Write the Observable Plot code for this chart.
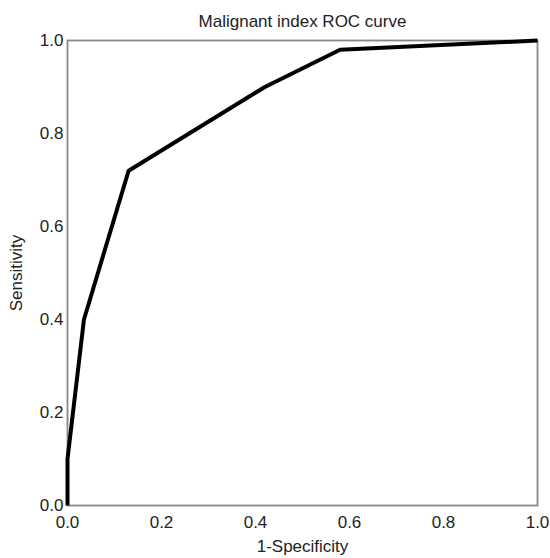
<!DOCTYPE html>
<html>
<head>
<meta charset="utf-8">
<script src="https://cdn.jsdelivr.net/npm/d3@7"></script>
<script src="https://cdn.jsdelivr.net/npm/@observablehq/plot@0.6"></script>
<style>
  html, body { margin: 0; padding: 0; background: #fff; }
  #chart svg { display: block; }
</style>
</head>
<body>
<div id="chart"></div>
<script>
const title = "Malignant index ROC curve";
const xLabel = "1-Specificity";
const yLabel = "Sensitivity";
const fpr = [0, 0, 0.035, 0.13, 0.42, 0.58, 1.0];
const tpr = [0, 0.1, 0.40, 0.72, 0.90, 0.98, 1.0];
const ticks = [0, 0.2, 0.4, 0.6, 0.8, 1.0];

const data = fpr.map((x, i) => ({x, y: tpr[i]}));

const chart = Plot.plot({
  width: 550,
  height: 558,
  marginLeft: 67,
  marginRight: 13,
  marginTop: 40,
  marginBottom: 53,
  style: {fontFamily: "'Liberation Sans', Arial, Helvetica, sans-serif", fontSize: "17px", color: "#222", background: "#fff"},
  x: {domain: [0, 1]},
  y: {domain: [0, 1]},
  marks: [
    Plot.frame({stroke: "#888", strokeWidth: 1.8}),
    Plot.axisX({ticks, tickSize: 0, tickPadding: 10, tickFormat: d3.format(".1f"), fontSize: 17,
      label: xLabel, labelAnchor: "center", labelOffset: 46, labelArrow: "none"}),
    Plot.axisY({ticks, tickSize: 0, tickPadding: 4, tickFormat: d3.format(".1f"), fontSize: 17,
      label: yLabel, labelAnchor: "center", labelOffset: 58, labelArrow: "none"}),
    Plot.line(data, {x: "x", y: "y", stroke: "#000", strokeWidth: 4, strokeLinejoin: "miter", strokeLinecap: "butt"}),
    Plot.text([title], {frameAnchor: "top", lineAnchor: "middle", dy: -19, fontSize: 17, fill: "#222"})
  ]
});
document.getElementById("chart").appendChild(chart);
</script>
</body>
</html>
